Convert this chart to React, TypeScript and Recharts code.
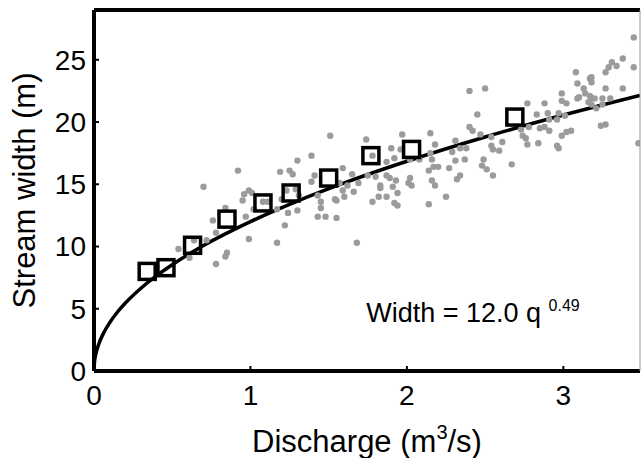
import React from 'react';
import { ComposedChart, XAxis, YAxis, Scatter, Line, ReferenceDot } from 'recharts';

const xTicks = [0, 1, 2, 3];
const yTicks = [0, 5, 10, 15, 20, 25];

// fitted power-law curve
const fitQ = [0, 0.003, 0.01, 0.03, 0.06, 0.1, 0.15, 0.2, 0.3, 0.4, 0.5, 0.7, 1.0, 1.3, 1.6, 2.0, 2.5, 3.0, 3.49];
const fitW = [0, 0.7, 1.26, 2.15, 3.02, 3.88, 4.74, 5.45, 6.65, 7.66, 8.54, 10.08, 12.0, 13.65, 15.11, 16.85, 18.8, 20.56, 22.14];

// binned means (open squares)
const binQ = [0.34, 0.46, 0.63, 0.85, 1.08, 1.26, 1.5, 1.77, 2.03, 2.69];
const binW = [8.0, 8.3, 10.1, 12.2, 13.5, 14.3, 15.5, 17.3, 17.8, 20.4];

// individual observations (grey dots) [q, width]
const obsLow: number[][] = [
  [0.70, 14.8], [0.84, 13.1], [0.76, 12.1], [0.78, 11.1], [0.72, 10.5], [0.64, 10.5], [0.54, 9.8], [0.61, 9.1],
  [0.85, 9.5], [0.84, 9.2], [0.78, 8.6], [0.92, 16.1],
];
const obsMid1: number[][] = [
  [1.51, 18.9], [1.39, 17.3], [1.30, 16.9], [1.19, 16.0], [1.25, 16.1], [1.27, 15.8], [1.41, 15.7], [1.39, 15.2],
  [1.59, 16.3], [1.65, 15.8], [1.57, 15.1], [1.62, 14.9], [1.59, 14.5], [1.66, 14.4], [0.99, 14.5], [1.01, 14.3],
  [0.96, 14.2], [0.95, 13.7], [1.08, 13.6], [1.11, 13.6], [1.23, 14.5], [1.29, 14.6], [1.31, 14.1], [1.20, 13.8],
  [1.43, 14.1], [1.45, 13.6], [1.54, 13.8], [1.55, 13.7], [1.60, 14.0], [1.45, 13.1], [1.30, 12.9], [1.24, 12.7],
  [1.17, 13.0], [1.02, 13.0], [0.97, 12.4], [1.43, 12.4], [1.48, 12.4], [1.55, 12.3], [1.22, 11.7], [0.99, 10.6],
  [1.17, 10.3],
];
const obsMid2: number[][] = [
  [2.40, 22.5], [2.45, 20.6], [2.40, 19.6], [2.42, 19.3], [1.97, 19.0], [2.15, 19.1], [1.74, 18.6], [1.90, 17.9],
  [1.96, 17.8], [1.92, 17.1], [1.87, 16.8], [1.78, 17.3], [2.18, 18.2], [2.31, 18.5], [2.34, 17.9], [2.38, 17.9],
  [2.29, 17.6], [2.37, 17.0], [2.31, 16.9], [2.15, 17.5], [2.16, 17.0], [2.17, 16.4], [2.20, 16.4], [2.14, 16.1],
  [2.02, 17.0], [2.08, 17.0], [2.27, 16.3], [2.34, 15.7], [2.32, 15.4], [1.69, 15.1], [1.75, 15.7], [1.80, 15.6],
  [1.87, 15.7], [1.89, 15.5], [1.93, 15.3], [1.83, 14.9], [1.83, 14.7], [1.91, 14.8], [1.94, 14.3], [2.02, 15.5],
  [2.01, 15.1], [2.03, 14.9], [2.16, 15.3], [2.18, 14.9], [1.78, 13.6], [1.82, 14.0], [1.87, 14.0], [1.92, 13.5],
  [1.94, 13.3], [2.14, 13.4], [2.25, 14.0], [1.68, 10.3],
];
const obsHigh1: number[][] = [
  [3.08, 24.0], [3.09, 23.1], [2.50, 22.7], [2.99, 22.3], [2.99, 21.7], [3.02, 21.5], [3.09, 21.9], [2.77, 21.5],
  [2.88, 21.5], [2.83, 20.6], [2.90, 20.7], [2.91, 20.2], [2.97, 20.7], [2.96, 20.2], [3.01, 20.5], [2.73, 19.4],
  [2.78, 19.6], [2.85, 19.5], [2.88, 19.6], [2.91, 19.3], [2.74, 18.9], [2.76, 18.7], [2.99, 18.9], [3.02, 19.2],
  [3.05, 19.3], [2.47, 19.0], [2.54, 18.8], [2.61, 18.4], [2.77, 18.2], [2.84, 18.3], [2.96, 18.1], [2.97, 17.9],
  [2.54, 18.1], [2.55, 17.8], [2.59, 17.7], [2.49, 17.0], [2.48, 16.5], [2.51, 16.2], [2.55, 15.7], [2.67, 16.6],
];
const obsHigh2: number[][] = [
  [3.45, 26.8], [3.38, 25.1], [3.31, 24.8], [3.29, 24.4], [3.34, 24.5], [3.45, 24.4], [3.27, 24.0], [3.18, 23.6],
  [3.17, 23.5], [3.18, 23.2], [3.27, 22.7], [3.38, 22.7], [3.13, 22.7], [3.10, 22.0], [3.14, 22.3], [3.17, 22.1],
  [3.18, 21.9], [3.20, 21.9], [3.25, 21.9], [3.30, 21.9], [3.16, 21.6], [3.18, 21.4], [3.25, 21.4], [3.21, 21.1],
  [3.24, 19.7], [3.27, 19.8], [3.48, 18.3],
];

const fitData = fitQ.map((q, i) => ({ q, w: fitW[i] }));
const binData = binQ.map((q, i) => ({ q, w: binW[i] }));
const obsData = [...obsLow, ...obsMid1, ...obsMid2, ...obsHigh1, ...obsHigh2].map(([q, w]) => ({ q, w }));

const FONT = '"Liberation Sans", Arial, Helvetica, sans-serif';
const TICK_FS = 28;
const X_MAX = 3.49;
const Y_MAX = 29;

const Dot = (p: any) => <circle cx={p.cx} cy={p.cy} r={3.2} fill="#9b9b9b" />;
const Square = (p: any) => (
  <rect x={p.cx - 8} y={p.cy - 8} width={16} height={16} fill="none" stroke="#000" strokeWidth={3.5} />
);

const XTitle = (props: any) => {
  const vb = props.viewBox || { x: 94, y: 371, width: 546, height: 87 };
  return (
    <text x={vb.x + vb.width / 2} y={vb.y + 81} textAnchor="middle" fontFamily={FONT} fontSize={31} fill="#000">
      Discharge (m<tspan dy={-13} fontSize={20}>3</tspan>
      <tspan dy={13}>/s)</tspan>
    </text>
  );
};

const YTitle = (props: any) => {
  const vb = props.viewBox || { x: 0, y: 10, width: 94, height: 361 };
  const cx = vb.x + 35;
  const cy = vb.y + vb.height / 2;
  return (
    <text x={cx} y={cy} transform={`rotate(-90, ${cx}, ${cy})`} textAnchor="middle" fontFamily={FONT} fontSize={31} fill="#000">
      Stream width (m)
    </text>
  );
};

const Annotation = (props: any) => {
  const vb = props.viewBox || { x: 0, y: 0, width: 0, height: 0 };
  const x = vb.x + vb.width / 2;
  const y = vb.y + vb.height / 2;
  return (
    <text x={x} y={y} fontFamily={FONT} fontSize={27} fill="#000">
      Width = 12.0 q <tspan dy={-11} fontSize={16}>0.49</tspan>
    </text>
  );
};

export default function App() {
  return (
    <div style={{ position: 'absolute', left: 0, top: 0, width: 641, height: 458, background: '#fff' }}>
      <ComposedChart width={641} height={458} margin={{ top: 9, right: 0, bottom: 0, left: 0 }}>
        <XAxis
          xAxisId="b"
          orientation="bottom"
          type="number"
          dataKey="q"
          domain={[0, X_MAX]}
          ticks={xTicks}
          interval={0}
          allowDataOverflow
          height={87}
          axisLine={{ stroke: '#000', strokeWidth: 4 }}
          tickLine={{ stroke: '#000', strokeWidth: 2 }}
          tickSize={-5}
          tickMargin={19}
          tick={{ fill: '#000', fontSize: TICK_FS, fontFamily: FONT }}
          label={{ content: XTitle }}
        />
        <XAxis
          xAxisId="t"
          orientation="top"
          type="number"
          dataKey="q"
          domain={[0, X_MAX]}
          ticks={xTicks}
          interval={0}
          allowDataOverflow
          height={1}
          axisLine={{ stroke: '#000', strokeWidth: 4 }}
          tickLine={{ stroke: '#000', strokeWidth: 2 }}
          tickSize={-5}
          tick={false}
        />
        <YAxis
          yAxisId="l"
          orientation="left"
          type="number"
          domain={[0, Y_MAX]}
          ticks={yTicks}
          interval={0}
          allowDataOverflow
          width={94}
          axisLine={{ stroke: '#000', strokeWidth: 4 }}
          tickLine={{ stroke: '#000', strokeWidth: 2 }}
          tickSize={-5}
          tickMargin={13}
          tick={{ fill: '#000', fontSize: TICK_FS, fontFamily: FONT }}
          label={{ content: YTitle }}
        />
        <YAxis
          yAxisId="r"
          orientation="right"
          type="number"
          domain={[0, Y_MAX]}
          ticks={yTicks}
          interval={0}
          allowDataOverflow
          width={1}
          axisLine={{ stroke: '#999', strokeWidth: 1 }}
          tickLine={{ stroke: '#000', strokeWidth: 2 }}
          tickSize={-5}
          tick={false}
        />
        <Scatter xAxisId="b" yAxisId="l" data={obsData} dataKey="w" shape={Dot} isAnimationActive={false} />
        <Line
          xAxisId="b"
          yAxisId="l"
          data={fitData}
          dataKey="w"
          type="monotone"
          stroke="#000"
          strokeWidth={3.5}
          dot={false}
          activeDot={false}
          isAnimationActive={false}
        />
        <Scatter xAxisId="b" yAxisId="l" data={binData} dataKey="w" shape={Square} isAnimationActive={false} />
        <ReferenceDot
          xAxisId="b"
          yAxisId="l"
          x={1.74}
          y={3.9}
          r={1}
          fill="none"
          stroke="none"
          label={{ content: Annotation }}
        />
      </ComposedChart>
    </div>
  );
}
